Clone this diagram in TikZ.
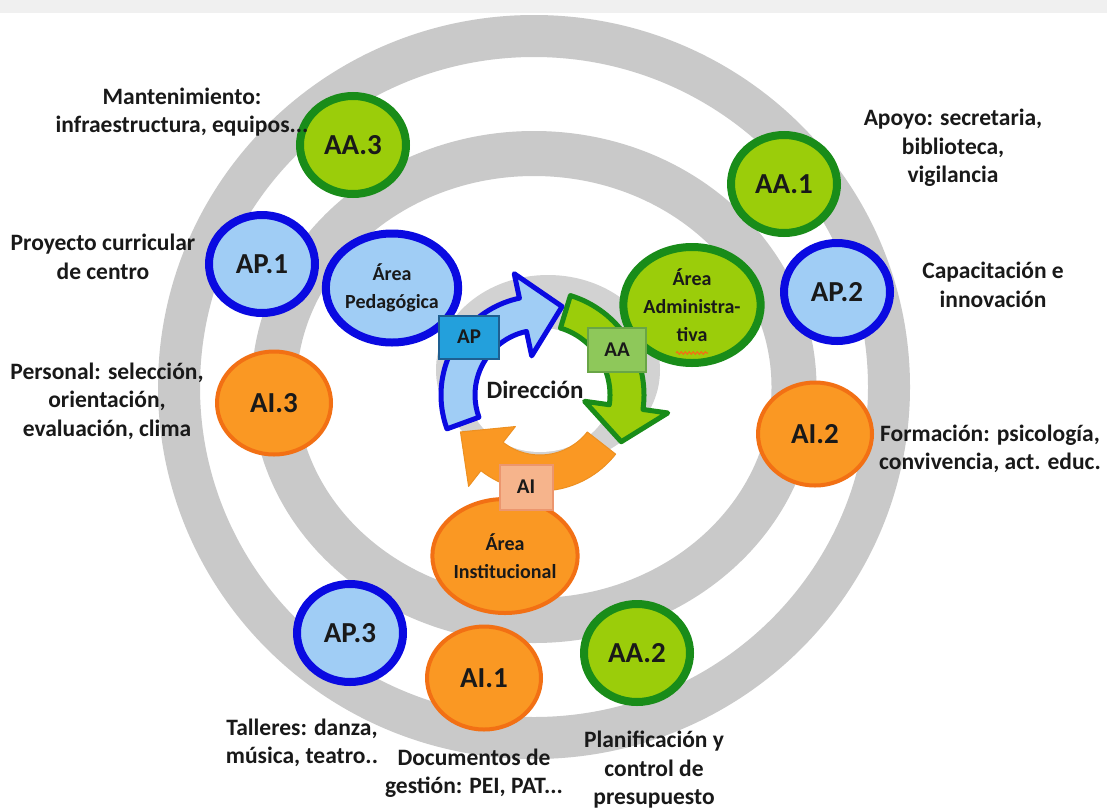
\documentclass[tikz,border=0pt]{standalone}
\usepackage{fontspec}
\setmainfont{Carlito}
\usetikzlibrary{shapes.geometric,decorations.pathmorphing}

\definecolor{ringgray}{RGB}{201,201,201}
\definecolor{hubgray}{RGB}{210,210,210}
\definecolor{grnfill}{RGB}{155,205,10}
\definecolor{grnline}{RGB}{25,140,25}
\definecolor{bluefill}{RGB}{160,205,245}
\definecolor{blueline}{RGB}{10,10,225}
\definecolor{orfill}{RGB}{250,152,35}
\definecolor{orline}{RGB}{242,112,20}
\definecolor{apfill}{RGB}{35,160,220}
\definecolor{apline}{RGB}{30,95,145}
\definecolor{aafill}{RGB}{142,200,90}
\definecolor{aaline}{RGB}{105,165,70}
\definecolor{aifill}{RGB}{246,180,140}
\definecolor{ailine}{RGB}{236,150,110}
\definecolor{txt}{RGB}{25,25,25}

\begin{document}
\begin{tikzpicture}[x=1pt,y=-1pt,
  every node/.style={text=txt},
  note/.style={align=center, inner sep=0pt, font=\bfseries\fontsize{23.5}{28.5}\selectfont},
  sub/.style={ellipse, inner sep=0pt, line width=8pt,
    minimum width=106pt, minimum height=98pt,
    font=\bfseries\fontsize{29}{30}\selectfont},
  subA/.style={sub, draw=grnline, fill=grnfill},
  subP/.style={sub, draw=blueline, fill=bluefill},
  subI/.style={sub, draw=orline, fill=orfill, line width=4pt,
    minimum width=114pt, minimum height=103pt},
  area/.style={ellipse, inner sep=0pt, align=center,
    font=\bfseries\fontsize{20}{28}\selectfont},
  tag/.style={rectangle, inner sep=0pt, line width=2pt,
    font=\bfseries\fontsize{21}{22}\selectfont},
  ring/.style={draw=ringgray},
  arrowblue/.style={fill=bluefill, draw=blueline, line width=5pt, line join=round},
  arrowgreen/.style={fill=grnfill, draw=grnline, line width=5pt, line join=round},
  arroworange/.style={fill=orfill, draw=orfill!95!black, line width=1pt, line join=round}
]
\useasboundingbox (0,0) rectangle (1107,809);
\fill[white] (0,0) rectangle (1107,809);
\fill[gray!12] (0,0) rectangle (1107,13);

% concentric bands
\draw[ring, line width=42pt] (534,387) ellipse [x radius=355, y radius=351];
\draw[ring, line width=45pt] (534,387) ellipse [x radius=260, y radius=233.5];

% hub behind the cycle
\fill[hubgray] (548,370) ellipse [x radius=112, y radius=95];
\fill[white] (540,390) ellipse [x radius=72, y radius=62];

% cycle of three curved arrows
\begin{scope}[shift={(540,395)}]
  \draw[arroworange] (38:96) arc[start angle=38, end angle=128, radius=96]
    -- (128:116) -- (155.1:87.7) -- (128:40) -- (128:60)
    arc[start angle=128, end angle=38, radius=60] -- cycle;
  \draw[arrowblue] (160:99) arc[start angle=160, end angle=258, radius=99]
    -- (258:124) -- (284:91.2) -- (258:40) -- (258:65)
    arc[start angle=258, end angle=160, radius=65] -- cycle;
  \draw[arrowgreen] (287:104) arc[start angle=287, end angle=368, radius=104]
    -- (368:129) -- (389.9:93.7) -- (368:45) -- (368:70)
    arc[start angle=368, end angle=287, radius=70] -- cycle;
\end{scope}

% the three areas
\node[area, draw=blueline, fill=bluefill, line width=8pt,
  minimum width=131pt, minimum height=109pt] (ped) at (392,288) {Área\\Pedagógica};
\node[area, draw=grnline, fill=grnfill, line width=8pt,
  minimum width=121pt, minimum height=116pt] (adm) at (692,305) {Área\\Administra-\\tiva};
\node[area, draw=orline, fill=orfill, line width=4pt,
  minimum width=132pt, minimum height=114pt] (ins) at (505,556) {Área\\Institucional};
\draw[orline, line width=1.2pt, decorate,
  decoration={snake, amplitude=1.2pt, segment length=4pt}]
  ([xshift=-16pt,yshift=-48pt]adm.center) -- ([xshift=16pt,yshift=-48pt]adm.center);

% tags on the cycle
\node[tag, draw=apline, fill=apfill, minimum width=60pt, minimum height=43pt] (ap) at (469,337) {AP};
\node[tag, draw=aaline, fill=aafill, minimum width=58pt, minimum height=44pt] (aa) at (617,350) {AA};
\node[tag, draw=ailine, fill=aifill, minimum width=53pt, minimum height=45pt] (ai) at (526,487) {AI};

\node[font=\bfseries\fontsize{25}{26}\selectfont, inner sep=0pt] (dir) at (535,390) {Dirección};

% outer items
\node[subA] (aa3) at (353,145) {AA.3};
\node[subA] (aa1) at (784,184) {AA.1};
\node[subA] (aa2) at (637,653) {AA.2};
\node[subP] (ap1) at (262,264) {AP.1};
\node[subP] (ap2) at (837,292) {AP.2};
\node[subP] (ap3) at (350,633) {AP.3};
\node[subI] (ai3) at (274,403) {AI.3};
\node[subI] (ai2) at (815,434) {AI.2};
\node[subI] (ai1) at (484,678) {AI.1};

% descriptions
\node[note] (t-aa3) at (182,112) {Mantenimiento:\\infraestructura, equipos...};
\node[note] (t-ap1) at (103,257) {Proyecto curricular\\de centro};
\node[note] (t-ai3) at (107,401) {Personal: selección,\\orientación,\\evaluación, clima};
\node[note] (t-aa1) at (953,148) {Apoyo: secretaria,\\biblioteca,\\vigilancia};
\node[note] (t-ap2) at (993,285) {Capacitación e\\innovación};
\node[note] (t-ai2) at (990,449) {Formación: psicología,\\convivencia, act. educ.};
\node[note] (t-ap3) at (302,743) {Talleres: danza,\\música, teatro..};
\node[note] (t-ai1) at (474,773) {Documentos de\\gestión: PEI, PAT...};
\node[note] (t-aa2) at (654,770) {Planificación y\\control de\\presupuesto};
\end{tikzpicture}
\end{document}
